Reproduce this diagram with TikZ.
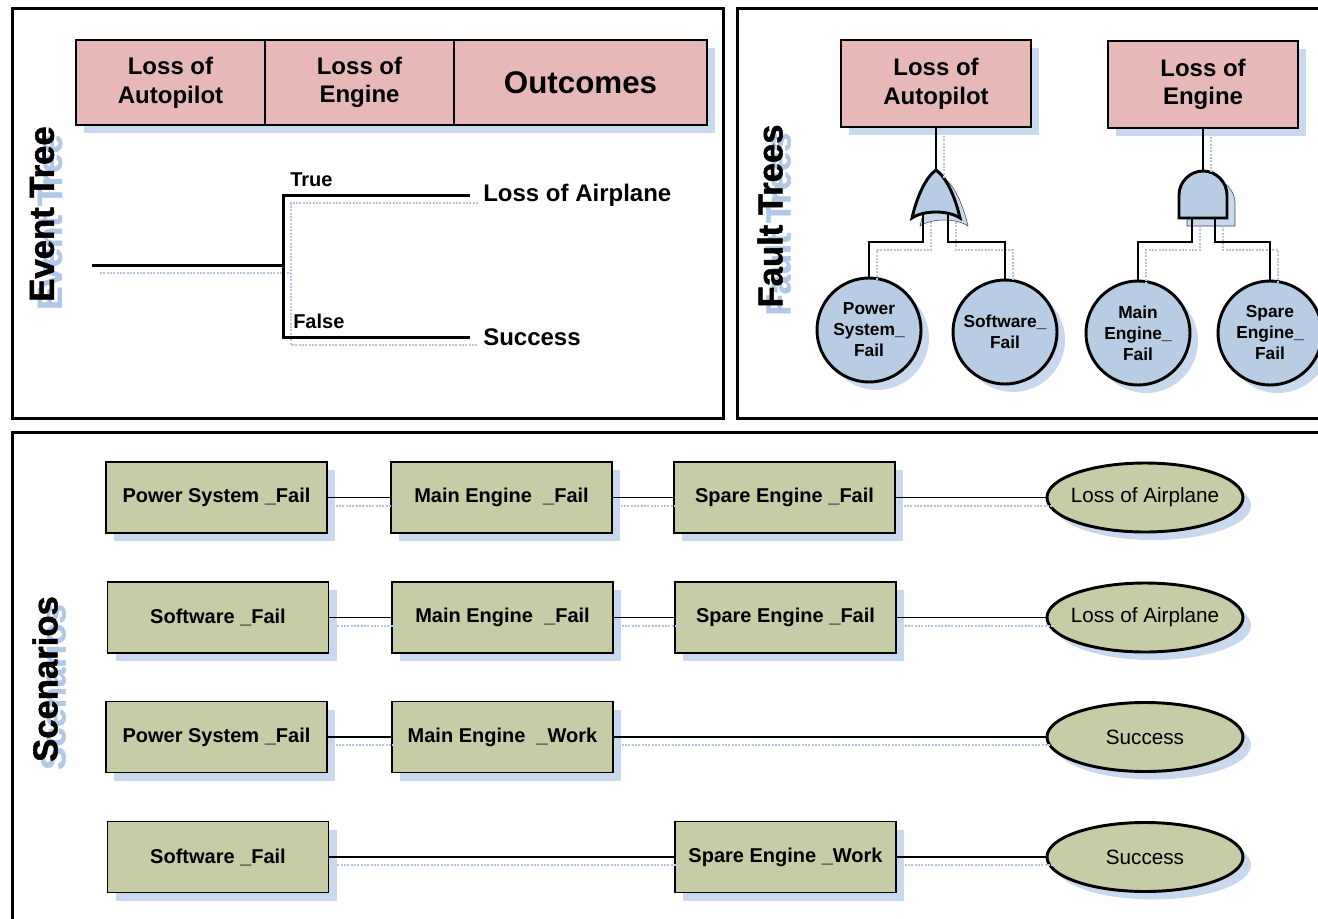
\documentclass[tikz,border=0pt]{standalone}
\usepackage{fontspec}
\setmainfont{Liberation Sans}
\newfontfamily\heavyfont{Liberation Sans}[BoldFeatures={FakeBold=1.5}]
\usetikzlibrary{positioning,shadows,shapes.geometric}

\definecolor{hdpink}{HTML}{E6B9B8}
\definecolor{scgreen}{HTML}{C6CCA6}
\definecolor{ftblue}{HTML}{B8CCE4}
\definecolor{shblue}{HTML}{B3C7E6}

\begin{document}
\begin{tikzpicture}[x=0.75pt, y=-0.75pt,
    panel/.style={draw, line width=2.25pt},
    castshadow/.style={drop shadow={shadow xshift=6pt, shadow yshift=-6pt, fill=shblue, opacity=0.7}},
    ghost/.style={draw=shblue, line width=1.5pt, densely dotted, transform canvas={shift={(6pt,-6pt)}}},
    sidetitle/.style={rotate=90, inner sep=0pt, font=\fontsize{26}{30}\selectfont\heavyfont\bfseries},
    sideghost/.style={sidetitle, text=shblue},
    header/.style={draw, line width=1.5pt, fill=hdpink, castshadow, align=center, inner sep=0pt,
      minimum width=141.75pt, minimum height=63.75pt, font=\fontsize{18}{21.5}\selectfont\bfseries},
    outcome/.style={anchor=west, inner xsep=9.75pt, inner ysep=0pt, font=\fontsize{18}{21.5}\selectfont\bfseries},
    branchlbl/.style={anchor=base west, inner sep=0pt, font=\fontsize{15}{18}\selectfont\bfseries},
    etline/.style={line width=2.25pt},
    fthead/.style={header, minimum width=142.5pt, minimum height=65.25pt},
    basic/.style={circle, draw, line width=2.2pt, fill=ftblue, castshadow, minimum size=78pt, inner sep=0pt,
      align=center, font=\fontsize{13}{15.75}\selectfont\bfseries},
    gate/.style={draw, line width=2.2pt, fill=ftblue},
    gateghost/.style={fill=shblue, opacity=0.7, transform canvas={shift={(6pt,-6pt)}}},
    ftline/.style={line width=1.5pt},
    scenbox/.style={draw, line width=1.2pt, fill=scgreen, castshadow, minimum width=165.75pt, minimum height=53.25pt,
      inner sep=0pt, font=\fontsize{15}{18}\selectfont\bfseries},
    scenend/.style={ellipse, draw, line width=2.2pt, fill=scgreen, castshadow, minimum width=147pt,
      minimum height=51.75pt, inner xsep=-4.5pt, inner ysep=0pt, font=\fontsize{15.5}{18}\selectfont},
    scline/.style={line width=1.1pt}
  ]
\useasboundingbox (0,0) rectangle (1318,918);

% event tree
\draw[panel] (12,8) rectangle (723,418);
\node[sideghost] (etghost) at (50,222) {Event Tree};
\node[sidetitle] (ettitle) at (42,214) {Event Tree};

\node[header] (hdap) at (170.5,82.5) {Loss of\\Autopilot};
\node[header, right=-1.5pt of hdap] (hden) {Loss of\\Engine};
\node[header, right=-1.5pt of hden, minimum width=189.75pt, font=\fontsize{23.5}{26}\selectfont\bfseries] (hdout) {Outcomes};

\coordinate (root) at (92,265);
\coordinate (fork) at (283,265);
\node[outcome] (etloss) at (470,195) {Loss of Airplane};
\node[outcome] (etsucc) at (470,337) {Success};
\node[branchlbl] (ettrue) at (290,186) {True};
\node[branchlbl] (etfalse) at (293,328) {False};
\foreach \s in {ghost,etline}
  \draw[\s] (root) -- (fork) (etloss.west) -| (fork) |- (etsucc.west);

% fault trees
\draw[panel] (737,8) rectangle (1330,418);
\node[sideghost] (ftghost) at (778,224) {Fault Trees};
\node[sidetitle] (fttitle) at (770,216) {Fault Trees};

\node[fthead] (ftap) at (936,83.5) {Loss of\\Autopilot};
\node[fthead] (ften) at (1203,84.5) {Loss of\\Engine};

\foreach \s in {gateghost,gate} {
  \draw[\s] (912,218) .. controls (917,196) and (926,177) .. (936,170)
    .. controls (946,177) and (955,196) .. (960,218)
    .. controls (948,210) and (924,210) .. (912,218) -- cycle;
  \draw[\s] (1179,218) -- (1179,195) .. controls (1179,182) and (1190,171) .. (1203,171)
    .. controls (1216,171) and (1227,182) .. (1227,195) -- (1227,218) -- cycle;
}
\coordinate (orout) at (936,170);
\coordinate (orin1) at (923,214);
\coordinate (orin2) at (948,214);
\coordinate (andout) at (1203,171);
\coordinate (andin1) at (1192,218);
\coordinate (andin2) at (1215,218);

\node[basic] (psf) at (869,330) {Power\\System\_\\Fail};
\node[basic] (swf) at (1005,332) {Software\_\\Fail};
\node[basic] (mef) at (1138,333) {Main\\Engine\_\\Fail};
\node[basic] (sef) at (1270,333) {Spare\\Engine\_\\Fail};

\foreach \s in {ghost,ftline} {
  \draw[\s] (ftap.south) -- (orout);
  \draw[\s] (orin1) -- ++(0,28) -| (psf.north);
  \draw[\s] (orin2) -- ++(0,28) -| (swf.north);
  \draw[\s] (ften.south) -- (andout);
  \draw[\s] (andin1) -- ++(0,24) -| (mef.north);
  \draw[\s] (andin2) -- ++(0,24) -| (sef.north);
}

% scenarios
\draw[panel] (12,432) rectangle (1330,930);
\node[sideghost] (scghost) at (53,687) {Scenarios};
\node[sidetitle] (sctitle) at (45,679) {Scenarios};

\node[scenbox] (s1a) at (216.5,497.5) {Power System \_Fail};
\node[scenbox] (s1b) at (501.5,497.5) {Main Engine~ \_Fail};
\node[scenbox] (s1c) at (784.5,497.5) {Spare Engine \_Fail};
\node[scenend] (s1o) at (1145,497.5) {Loss of Airplane};

\node[scenbox] (s2a) at (218,617.5) {Software \_Fail};
\node[scenbox] (s2b) at (502.5,617.5) {Main Engine~ \_Fail};
\node[scenbox] (s2c) at (785.5,617.5) {Spare Engine \_Fail};
\node[scenend] (s2o) at (1145,617.5) {Loss of Airplane};

\node[scenbox] (s3a) at (216.5,737) {Power System \_Fail};
\node[scenbox] (s3b) at (502.5,737) {Main Engine~ \_Work};
\node[scenend] (s3o) at (1145,737) {Success};

\node[scenbox] (s4a) at (218,857) {Software \_Fail};
\node[scenbox] (s4c) at (785.5,857) {Spare Engine \_Work};
\node[scenend] (s4o) at (1145,857) {Success};

\foreach \s in {ghost,scline} {
  \draw[\s] (s1a) -- (s1b) -- (s1c) -- (s1o);
  \draw[\s] (s2a) -- (s2b) -- (s2c) -- (s2o);
  \draw[\s] (s3a) -- (s3b) -- (s3o);
  \draw[\s] (s4a) -- (s4c) -- (s4o);
}

\end{tikzpicture}
\end{document}
